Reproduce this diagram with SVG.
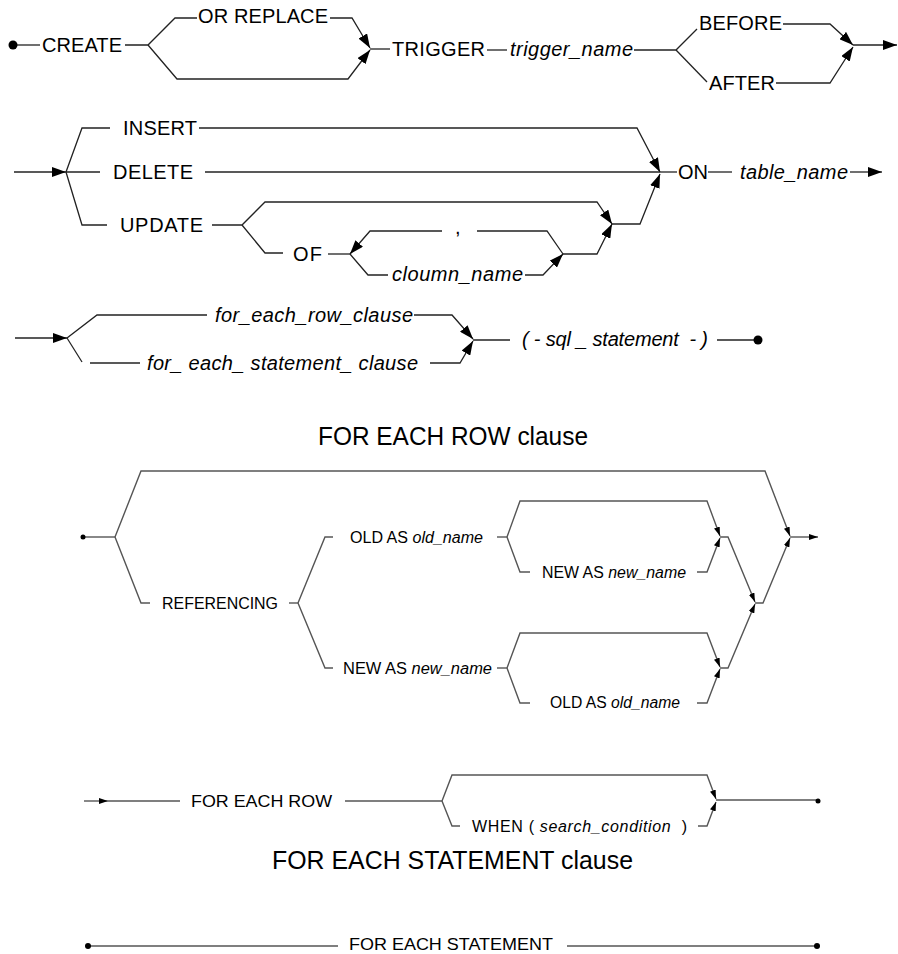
<svg xmlns="http://www.w3.org/2000/svg" width="898" height="954" viewBox="0 0 898 954">
<defs>
<marker id="arr" markerUnits="userSpaceOnUse" viewBox="0 0 14 10" markerWidth="14" markerHeight="10" refX="14" refY="5" orient="auto"><path d="M0,0 L14,5 L0,10 z" fill="#000"/></marker>
<marker id="arrs" markerUnits="userSpaceOnUse" viewBox="0 0 9 6" markerWidth="9" markerHeight="6" refX="9" refY="3" orient="auto"><path d="M0,0 L9,3 L0,6 z" fill="#000"/></marker>
<style>
.l{fill:none;stroke:#222;stroke-width:1.3}
.g{fill:none;stroke:#555;stroke-width:1.4}
.a{marker-end:url(#arr)}
.as{marker-end:url(#arrs)}
text{font-family:"Liberation Sans",Arial,sans-serif;fill:#000}
.t{font-size:20px}
.s{font-size:16px}
.i{font-style:italic}
.h{font-size:26px}
</style>
</defs>
<g id="connectors">
<!-- row 1 -->
<path class="l" d="M13,45 H40"/>
<path class="l" d="M125,45 H148 L175,18 H197"/>
<path class="l a" d="M330,18 H352 L370,48"/>
<path class="l a" d="M148,45 L177,79 H348 L370,50"/>
<path class="l" d="M370,49 H390"/>
<path class="l" d="M487,50 H507"/>
<path class="l" d="M634,50 H676 L697,29"/>
<path class="l a" d="M783,24 H830 L853,45"/>
<path class="l" d="M676,50 L707,82"/>
<path class="l a" d="M776,83 H830 L853,47"/>
<path class="l a" d="M853,45 H897"/>
<!-- row 2 -->
<path class="l a" d="M14,172 H66"/>
<path class="l" d="M66,172 L82,128 H110"/>
<path class="l a" d="M199,128 H637 L660,172"/>
<path class="l" d="M66,172 H100"/>
<path class="l" d="M205,172 H660"/>
<path class="l" d="M66,172 L82,225 H107"/>
<path class="l a" d="M212,225 H242 L265,202 H597 L612,224"/>
<path class="l" d="M242,225 L265,253 H283"/>
<path class="l" d="M328,254 H350"/>
<path class="l" d="M563,254 L547,231 H477"/>
<path class="l a" d="M442,231 H370 L350,254"/>
<path class="l" d="M350,254 L368,275 H388"/>
<path class="l a" d="M525,275 H543 L563,254"/>
<path class="l a" d="M563,254 H597 L612,224"/>
<path class="l a" d="M612,224 H640 L660,174"/>
<path class="l" d="M660,172 H677"/>
<path class="l" d="M708,172 H732"/>
<path class="l a" d="M850,172 H882"/>
<!-- row 3 -->
<path class="l a" d="M15,338 H67"/>
<path class="l" d="M67,338 L97,315 H207"/>
<path class="l a" d="M414,315 H452 L473,339"/>
<path class="l" d="M67,338 L82,362"/>
<path class="l" d="M90,363 H140"/>
<path class="l a" d="M430,363 H460 L473,341"/>
<path class="l" d="M473,340 H510"/>
<path class="l" d="M717,340 H758"/>
<!-- for each row clause -->
<path class="g" d="M83,537 H115"/>
<path class="g as" d="M115,537 L141,471 H765 L790,536"/>
<path class="g" d="M115,537 L141,603 H150"/>
<path class="g" d="M289,603 H298"/>
<path class="g" d="M298,603 L325,537 H333"/>
<path class="g" d="M497,537 H507"/>
<path class="g as" d="M507,537 L520,501 H707 L720,536"/>
<path class="g" d="M507,537 L520,572 H530"/>
<path class="g as" d="M697,572 H707 L720,538"/>
<path class="g as" d="M720,537 H728 L755,602"/>
<path class="g" d="M298,603 L325,668 H333"/>
<path class="g" d="M497,668 H507"/>
<path class="g as" d="M507,668 L520,633 H707 L720,667"/>
<path class="g" d="M507,668 L520,703 H530"/>
<path class="g as" d="M697,703 H707 L720,669"/>
<path class="g as" d="M720,668 H728 L755,604"/>
<path class="g as" d="M755,603 H763 L790,538"/>
<path class="g as" d="M790,537 H818"/>
<!-- for each row -->
<path class="g as" d="M84,801 H108"/>
<path class="g" d="M108,801 H180"/>
<path class="g" d="M345,801 H442"/>
<path class="g as" d="M442,801 L452,775 H707 L716,799"/>
<path class="g" d="M442,801 L452,826 H460"/>
<path class="g as" d="M698,826 H707 L716,802"/>
<path class="g" d="M716,800 H818"/>
<!-- for each statement -->
<path class="g" d="M88,946 H338"/>
<path class="g" d="M567,946 H817"/>
</g>
<g id="dots">
<circle cx="13" cy="45" r="4.5" fill="#000"/>
<circle cx="758" cy="340" r="4.5" fill="#000"/>
<circle cx="83" cy="537" r="2.5" fill="#000"/>
<circle cx="818" cy="801" r="2.5" fill="#000"/>
<circle cx="88" cy="946" r="3" fill="#000"/>
<circle cx="817" cy="946" r="3" fill="#000"/>
</g>
<g id="n-create"><text class="t" x="42" y="52" textLength="80">CREATE</text></g>
<g id="n-orreplace"><text class="t" x="198" y="23" textLength="130">OR REPLACE</text></g>
<g id="n-trigger"><text class="t" x="392" y="56" textLength="93">TRIGGER</text></g>
<g id="n-triggername"><text class="t i" x="510" y="56" textLength="123">trigger_name</text></g>
<g id="n-before"><text class="t" x="699" y="30" textLength="83">BEFORE</text></g>
<g id="n-after"><text class="t" x="709" y="90" textLength="66">AFTER</text></g>
<g id="n-insert"><text class="t" x="123" y="135" textLength="74">INSERT</text></g>
<g id="n-delete"><text class="t" x="113" y="179" textLength="80">DELETE</text></g>
<g id="n-update"><text class="t" x="120" y="232" textLength="83">UPDATE</text></g>
<g id="n-of"><text class="t" x="293" y="261" textLength="29">OF</text></g>
<g id="n-comma"><text class="t" x="455" y="234">,</text></g>
<g id="n-cloumn"><text class="t i" x="392" y="281" textLength="131">cloumn_name</text></g>
<g id="n-on"><text class="t" x="678" y="179" textLength="30">ON</text></g>
<g id="n-tablename"><text class="t i" x="740" y="179" textLength="108">table_name</text></g>
<g id="n-rowclause"><text class="t i" x="215" y="322" textLength="198">for_each_row_clause</text></g>
<g id="n-stmtclause"><text class="t i" x="147" y="370" textLength="271">for_ each_ statement_ clause</text></g>
<g id="n-sql"><text class="t i" x="522" y="346" textLength="186" xml:space="preserve">( - sql _ statement  - )</text></g>
<g id="title-row"><text class="h" x="318" y="445" textLength="270" lengthAdjust="spacingAndGlyphs">FOR EACH ROW clause</text></g>
<g id="n-referencing"><text class="s" x="162" y="609" textLength="116" lengthAdjust="spacingAndGlyphs">REFERENCING</text></g>
<g id="n-old1"><text class="s" x="350" y="543" textLength="133" lengthAdjust="spacingAndGlyphs">OLD AS <tspan class="i">old_name</tspan></text></g>
<g id="n-new1"><text class="s" x="542" y="578" textLength="144" lengthAdjust="spacingAndGlyphs">NEW AS <tspan class="i">new_name</tspan></text></g>
<g id="n-new2"><text class="s" x="343" y="674" textLength="149" lengthAdjust="spacingAndGlyphs">NEW AS <tspan class="i">new_name</tspan></text></g>
<g id="n-old2"><text class="s" x="550" y="708" textLength="130" lengthAdjust="spacingAndGlyphs">OLD AS <tspan class="i">old_name</tspan></text></g>
<g id="n-foreachrow"><text class="s" x="191" y="807" textLength="141" lengthAdjust="spacingAndGlyphs" style="font-size:17px">FOR EACH ROW</text></g>
<g id="n-when"><text class="s" x="472" y="832" textLength="215" xml:space="preserve">WHEN ( <tspan class="i">search_condition</tspan>  )</text></g>
<g id="title-stmt"><text class="h" x="272" y="869" textLength="361" lengthAdjust="spacingAndGlyphs">FOR EACH STATEMENT clause</text></g>
<g id="n-foreachstmt"><text class="s" x="349" y="950" textLength="204" lengthAdjust="spacingAndGlyphs" style="font-size:17px">FOR EACH STATEMENT</text></g>
</svg>
